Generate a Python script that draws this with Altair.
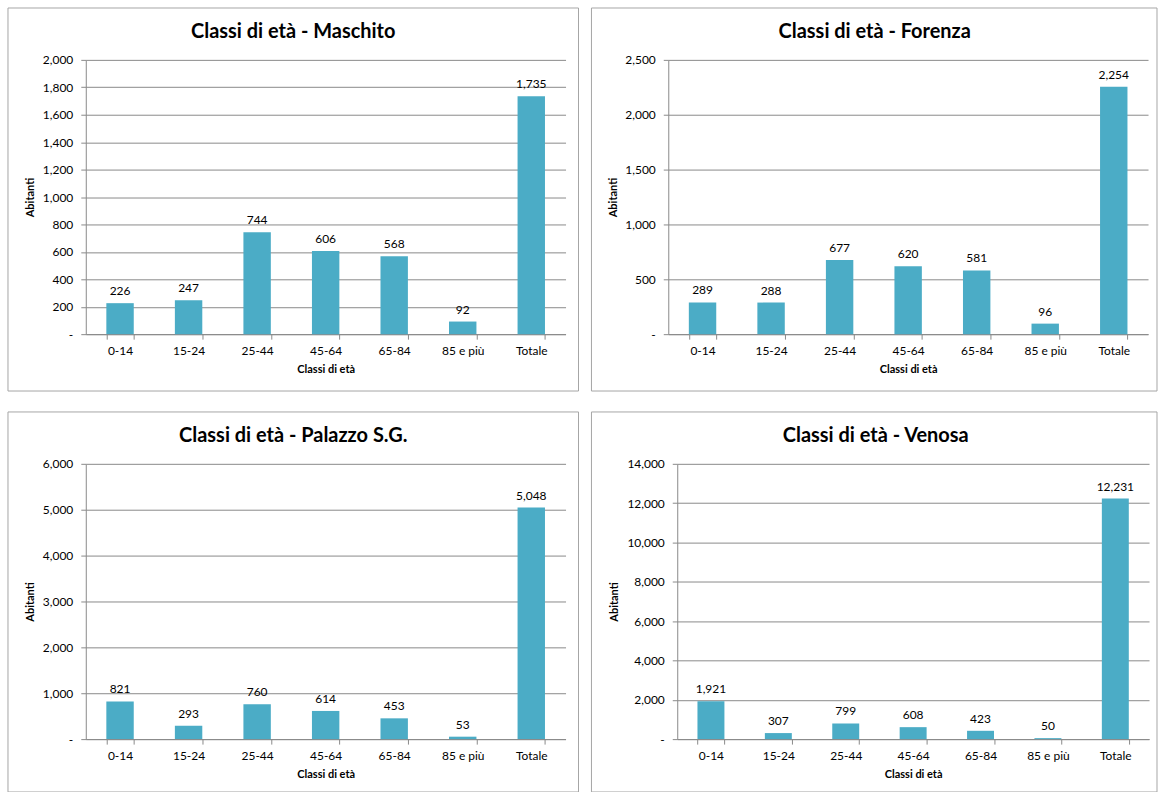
import altair as alt
import pandas as pd

categories = ["0-14", "15-24", "25-44", "45-64", "65-84", "85 e più", "Totale"]
maschito = [226, 247, 744, 606, 568, 92, 1735]
forenza = [289, 288, 677, 620, 581, 96, 2254]
palazzo = [821, 293, 760, 614, 453, 53, 5048]
venosa = [1921, 307, 799, 608, 423, 50, 12231]

titles = ["Classi di età - Maschito", "Classi di età - Forenza",
          "Classi di età - Palazzo S.G.", "Classi di età - Venosa"]
ticks_maschito = [0, 200, 400, 600, 800, 1000, 1200, 1400, 1600, 1800, 2000]
ticks_forenza = [0, 500, 1000, 1500, 2000, 2500]
ticks_palazzo = [0, 1000, 2000, 3000, 4000, 5000, 6000]
ticks_venosa = [0, 2000, 4000, 6000, 8000, 10000, 12000, 14000]

BAR = "#4BACC6"
GRID = "#8a8a8a"
BORDER = "#a6a6a6"
FONT = "Lato"


def panel(title, vals, ticks, w, h, left, right, top, bottom, title_dx, ytitle_dx):
    df = pd.DataFrame({"cat": categories, "val": vals})
    one = pd.DataFrame({"t": [title]})

    border = alt.Chart(one).mark_rect(
        fill="white", fillOpacity=0, stroke=BORDER, strokeWidth=1
    ).encode(
        x=alt.value(-left), x2=alt.value(w + right),
        y=alt.value(-top), y2=alt.value(h + bottom),
    )
    ttl = alt.Chart(one).mark_text(
        font=FONT, fontSize=20, fontWeight="bold", color="black",
        align="center", baseline="middle",
    ).encode(text="t:N", x=alt.value(title_dx), y=alt.value(-28))

    x = alt.X(
        "cat:N", sort=categories,
        scale=alt.Scale(paddingInner=0.6, paddingOuter=0.3),
        axis=alt.Axis(
            title="Classi di età", labelAngle=0, tickBand="extent", grid=False,
            tickSize=5, labelPadding=6, titleX=w / 2, titleY=35,
            titleBaseline="middle", titleAlign="center", labelOverlap=False,
        ),
    )
    y = alt.Y(
        "val:Q",
        scale=alt.Scale(domain=[0, ticks[-1]], nice=False),
        axis=alt.Axis(
            title="Abitanti", values=ticks, grid=True, tickSize=5, labelPadding=8,
            labelOverlap=False, labelFlush=False,
            labelExpr="datum.value == 0 ? '-\u00a0\u00a0\u00a0' : format(datum.value, ',')",
            titleX=ytitle_dx, titleY=h / 2, titleAngle=270,
            titleBaseline="middle", titleAlign="center",
        ),
    )
    bars = alt.Chart(df).mark_bar(color=BAR).encode(x=x, y=y)
    labels = alt.Chart(df).mark_text(
        font=FONT, fontSize=12, color="black", baseline="middle", dy=-12
    ).encode(
        x=x,
        y=y,
        text=alt.Text("val:Q", format=","),
    )
    return alt.layer(border, ttl, bars, labels).properties(width=w, height=h)


p1 = panel(titles[0], maschito, ticks_maschito, 481, 275, 78, 13, 52, 57, 208, -55)
p2 = panel(titles[1], forenza, ticks_forenza, 481, 275, 77, 9, 52, 57, 207, -55)
p3 = panel(titles[2], palazzo, ticks_palazzo, 481, 276, 78, 13, 52, 53, 208, -55)
p4 = panel(titles[3], venosa, ticks_venosa, 473, 276, 86, 8, 52, 53, 199, -63)

chart = alt.vconcat(
    alt.hconcat(p1, p2, spacing=11),
    alt.hconcat(p3, p4, spacing=11),
    spacing=19,
).properties(
    padding={"left": 7, "top": 6, "right": 0, "bottom": 1},
    background="white",
).configure_view(stroke=None).configure_axis(
    labelFont=FONT, labelFontSize=12, labelColor="black",
    titleFont=FONT, titleFontSize=11, titleFontWeight="bold", titleColor="black",
    gridColor=GRID, domainColor=GRID, tickColor=GRID,
)

chart.save("out.html", embed_options={"renderer": "svg", "actions": False})
